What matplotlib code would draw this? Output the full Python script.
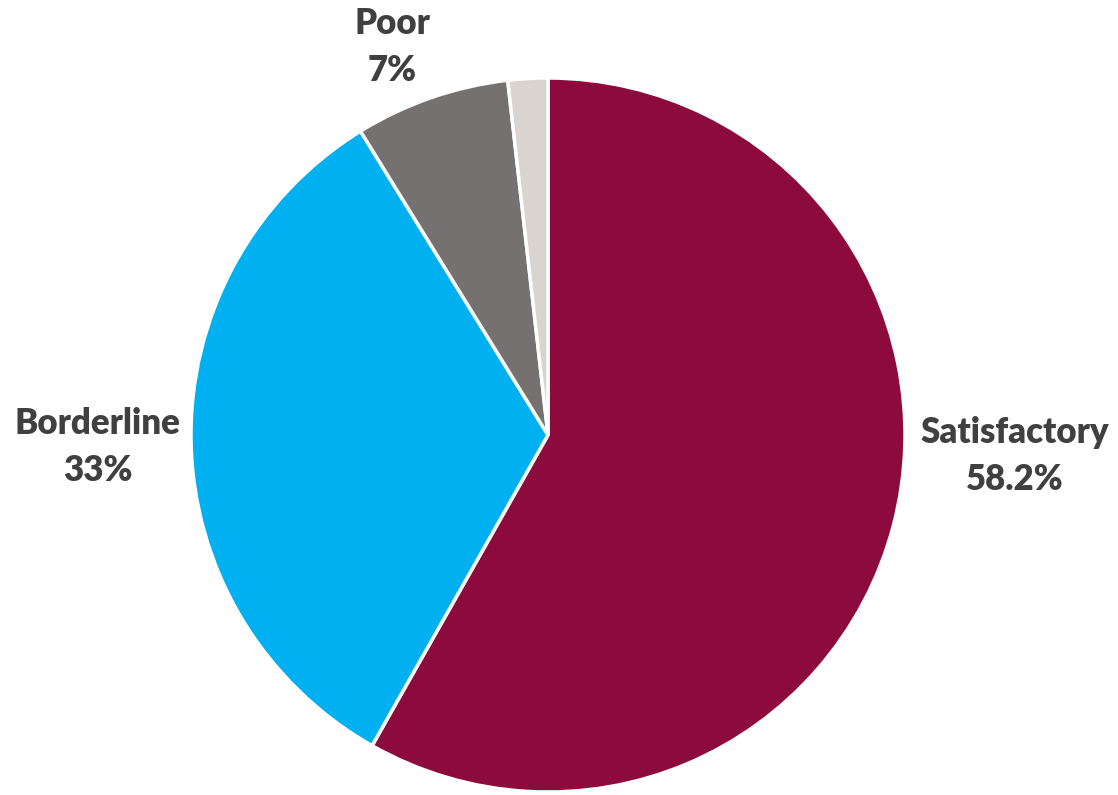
import matplotlib.pyplot as plt

categories = ["Satisfactory", "Borderline", "Poor", "Other"]
shares = [58.2, 33.0, 7.0, 1.8]
pct_labels = ["58.2%", "33%", "7%", ""]
colors = ["#8c0a3c", "#00b0f0", "#767171", "#d9d4cf"]

# label centres in data units (pie radius = 1)
label_pos = [(1.308, -0.059), (-1.261, -0.034), (-0.437, 1.087), None]

fig = plt.figure(figsize=(11.18, 7.95), dpi=100)
ax = fig.add_axes([0, 0, 1, 1])

ax.pie(
    shares,
    colors=colors,
    startangle=90,
    counterclock=False,
    radius=1.0,
    wedgeprops={"edgecolor": "white", "linewidth": 2.5},
)

for name, pct, pos in zip(categories, pct_labels, label_pos):
    if pos is None:
        continue
    ax.text(
        pos[0], pos[1], f"{name}\n{pct}",
        ha="center", va="center",
        fontsize=25, fontweight="heavy", family="Lato",
        color="#404040", linespacing=1.5,
    )

ax.set_xlim(-548 / 357, (1118 - 548) / 357)
ax.set_ylim(-360 / 357, 435 / 357)
ax.set_aspect("auto")
ax.axis("off")

fig.savefig("out.png", dpi=100)
